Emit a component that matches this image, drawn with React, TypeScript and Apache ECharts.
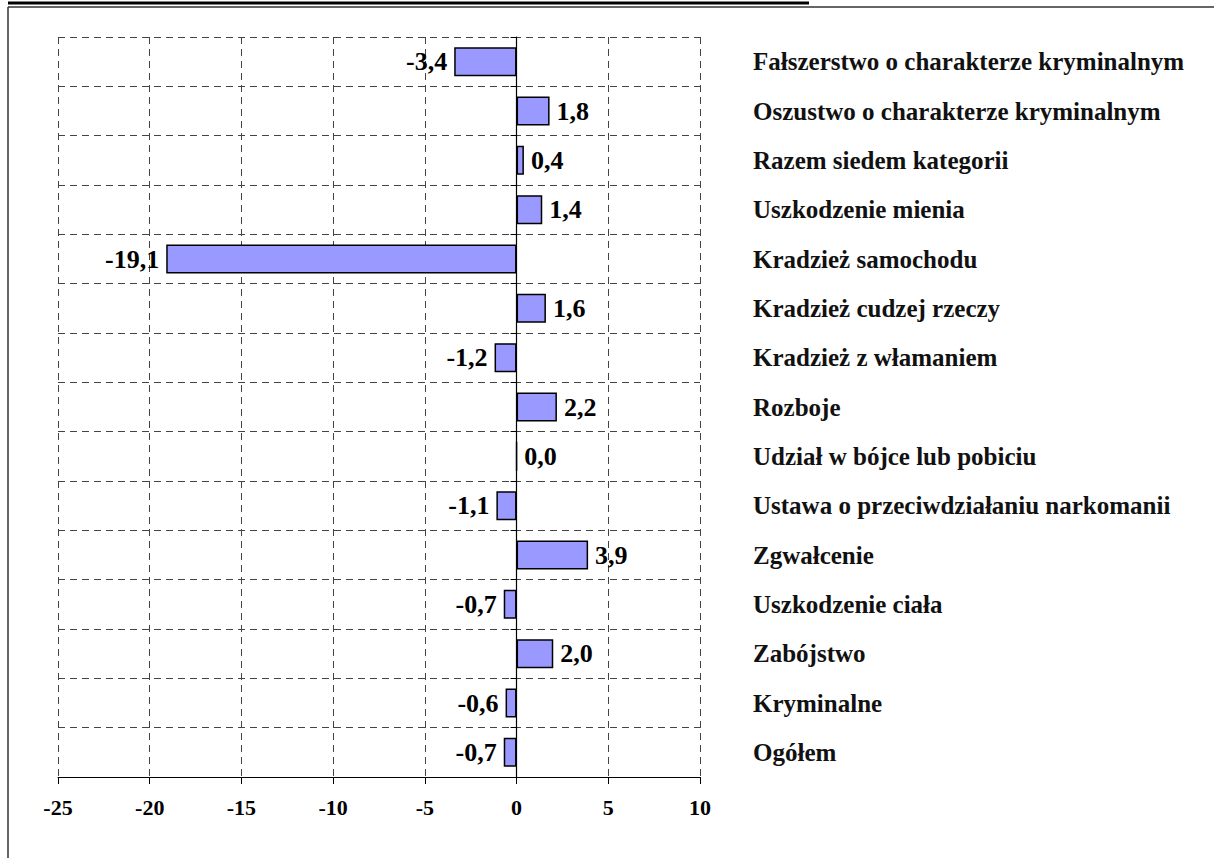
import React, { useEffect, useRef } from "react";
import * as echarts from "echarts";

const categories = [
  "Fałszerstwo o charakterze kryminalnym",
  "Oszustwo o charakterze kryminalnym",
  "Razem siedem kategorii",
  "Uszkodzenie mienia",
  "Kradzież samochodu",
  "Kradzież cudzej rzeczy",
  "Kradzież z włamaniem",
  "Rozboje",
  "Udział w bójce lub pobiciu",
  "Ustawa o przeciwdziałaniu narkomanii",
  "Zgwałcenie",
  "Uszkodzenie ciała",
  "Zabójstwo",
  "Kryminalne",
  "Ogółem",
];

const values = [-3.4, 1.8, 0.4, 1.4, -19.1, 1.6, -1.2, 2.2, 0.0, -1.1, 3.9, -0.7, 2.0, -0.6, -0.7];

const xMin = -25;
const xMax = 10;
const xStep = 5;

const FONT = "'Liberation Serif', 'Times New Roman', serif";

export default function App() {
  const ref = useRef<HTMLDivElement>(null);
  useEffect(() => {
    document.body.style.margin = "0";
    if (!ref.current) return;
    const chart = echarts.init(ref.current, null, { renderer: "svg" });
    const dash = { color: "#444", width: 1, type: [7, 5] as any };
    chart.setOption({
      animation: false,
      backgroundColor: "#fff",
      grid: { left: 58, right: 514, top: 37, bottom: 81, containLabel: false },
      xAxis: {
        type: "value",
        min: xMin,
        max: xMax,
        interval: xStep,
        axisLine: { show: true, onZero: false, lineStyle: { color: "#000", width: 1 } },
        axisTick: { show: true, length: 7, lineStyle: { color: "#000", width: 1 } },
        axisLabel: {
          fontFamily: FONT,
          fontWeight: "bold",
          fontSize: 22,
          color: "#000",
          margin: 19,
        },
        splitLine: { show: true, lineStyle: dash },
      },
      yAxis: [
        {
          type: "category",
          data: categories,
          inverse: true,
          axisLine: { show: true, onZero: true, lineStyle: { color: "#000", width: 1.2 } },
          axisTick: { show: true, length: 6, lineStyle: { color: "#000" } },
          axisLabel: { show: false },
          splitLine: { show: true, lineStyle: dash },
        },
        {
          type: "category",
          data: categories,
          inverse: true,
          position: "right",
          axisLine: { show: false, onZero: false },
          axisTick: { show: false },
          splitLine: { show: false },
          axisLabel: {
            show: true,
            margin: 53,
            align: "left",
            fontFamily: FONT,
            fontWeight: "bold",
            fontSize: 25,
            color: "#111",
          },
        },
      ],
      series: [
        {
          type: "bar",
          yAxisIndex: 0,
          barWidth: 29,
          itemStyle: { color: "#9999FF", borderColor: "#000", borderWidth: 1.5 },
          data: values.map((v) => ({
            value: v,
            label: { position: v < 0 ? "left" : "right" },
          })),
          label: {
            show: true,
            distance: 7,
            fontFamily: FONT,
            fontWeight: "bold",
            fontSize: 26,
            color: "#000",
            formatter: (p: any) => Number(p.value).toFixed(1).replace(".", ","),
          },
        },
      ],
      graphic: [
        {
          type: "line",
          shape: { x1: 8, y1: 3, x2: 809, y2: 3 },
          style: { stroke: "#000", lineWidth: 3 },
        },
        {
          type: "line",
          shape: { x1: 8, y1: 7, x2: 1214, y2: 7 },
          style: { stroke: "#333", lineWidth: 1.5 },
        },
        {
          type: "line",
          shape: { x1: 8, y1: 7, x2: 8, y2: 858 },
          style: { stroke: "#333", lineWidth: 1.5 },
        },
      ],
    });
    return () => chart.dispose();
  }, []);
  return <div ref={ref} style={{ width: 1214, height: 858 }} />;
}
